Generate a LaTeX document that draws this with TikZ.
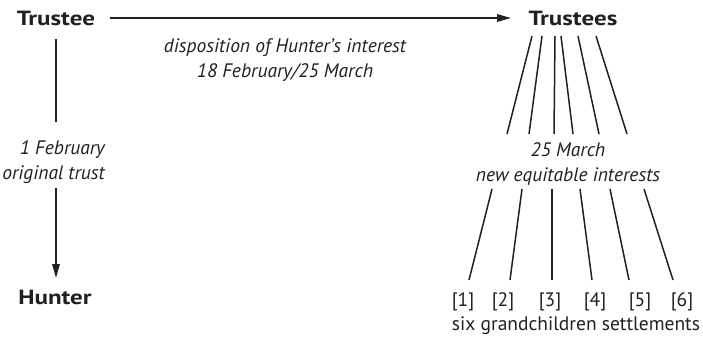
\documentclass[tikz,border=0pt]{standalone}
\usepackage{fontspec}
\setmainfont{PT Sans}
\newfontfamily\partyfont{PT Sans}[FakeStretch=1.22]
\usetikzlibrary{arrows.meta}
\definecolor{ink}{HTML}{231F20}
\begin{document}
\begin{tikzpicture}[x=1pt,y=-1pt,
  every node/.style={inner sep=0pt, text=ink},
  party/.style={font=\partyfont\fontsize{20.5}{24}\selectfont\bfseries},
  note/.style={font=\fontsize{19.5}{25.5}\selectfont\itshape, align=center},
  plain/.style={font=\fontsize{19.5}{24}\selectfont},
  link/.style={draw=ink, line width=1.5pt},
  arr/.style={link, -{Triangle[length=14pt,width=7.5pt]}}]
\useasboundingbox (0,0) rectangle (703,337);

% parties
\node[party] (trustee)  at (56,18)  {Trustee};
\node[party] (trustees) at (573,18) {Trustees};
\node[party] (hunter)   at (55,297) {Hunter};

% transfer of Hunter's interest to the trustees
\node[note] (disp) at (285,60) {disposition of Hunter’s interest\\18 February/25 March};
\coordinate (hStart) at (110,18);
\coordinate (hEnd)   at (511,18);
\draw[arr] (hStart) -- (hEnd);

% original trust
\node[note, align=right, anchor=east] (orig) at (105,162) {1 February\\original trust};
\coordinate (vTop) at (56,39);
\coordinate (vGapA) at (56,122);
\coordinate (vGapB) at (56,188);
\coordinate (vEnd) at (56,278);
\draw[link] (vTop) -- (vGapA);
\draw[arr] (vGapB) -- (vEnd);

% new equitable interests
\node[note] (neq) at (568,164) {25 March\\new equitable interests};

% fan below the trustees
\foreach \i/\xa/\xb in {1/532/507, 2/542/529, 3/555/554, 4/561/573, 5/578/599, 6/596/627}{
  \coordinate (t\i) at (\xa,36);
  \coordinate (b\i) at (\xb,134);
  \draw[link] (t\i) -- (b\i);
}

% fan to the settlements
\foreach \i/\xa/\xb/\xn in {1/492/469/463, 2/522/510/503, 3/552/552/550, 4/580/592/595, 5/610/629/640, 6/644/673/682}{
  \coordinate (u\i) at (\xa,189);
  \coordinate (l\i) at (\xb,280);
  \draw[link] (u\i) -- (l\i);
  \node[plain] (n\i) at (\xn,302) {[\i]};
}
\node[plain] (six) at (576,326) {six grandchildren settlements};
\end{tikzpicture}
\end{document}
